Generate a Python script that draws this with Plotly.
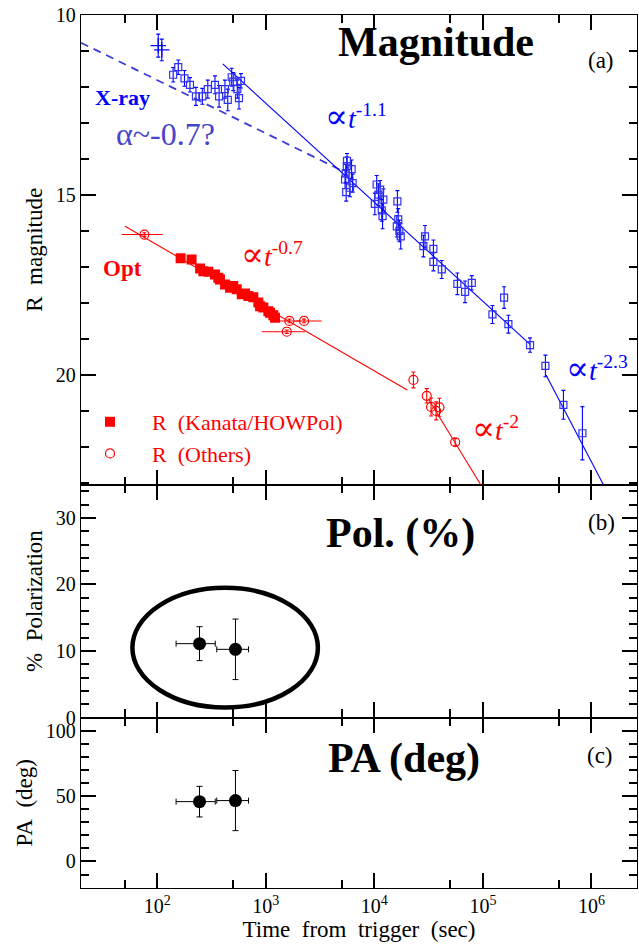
import plotly.graph_objects as go

# ---------------- data ----------------
# X-ray (converted to R magnitude), early "+" points
xray_plus_t = [102, 110]
xray_plus_mag = [10.85, 10.97]
xray_plus_err = [0.32, 0.30]

# X-ray open squares
xray_t = [140, 156, 178, 200, 227, 260, 292, 340, 371, 420, 446, 485, 501, 546, 566, 590,
          5600, 5570, 6170, 5450, 5370, 6310, 5500, 5970,
          10500, 11300, 10100, 12100, 11700, 11900, 10900, 16300,
          16600, 16100, 17500, 17000, 29300, 28300, 35000, 35000, 41800,
          58200, 68500, 79000, 122500, 156800, 171800, 272000, 376700, 552000, 826000]
xray_mag = [11.66, 11.45, 11.76, 11.94, 12.26, 12.26, 12.06, 11.94, 12.26, 12.06, 12.36, 11.73, 11.85, 12.06, 12.31, 11.83,
            14.05, 14.20, 14.28, 14.40, 14.57, 14.67, 14.92, 14.80,
            14.71, 14.85, 15.25, 15.13, 15.43, 15.59, 14.99, 15.18,
            15.68, 15.87, 16.15, 16.00, 16.15, 16.42, 16.50, 16.86, 17.07,
            17.47, 17.69, 17.44, 18.32, 17.85, 18.59, 19.17, 19.75, 20.83, 21.62]
xray_err = [0.20, 0.20, 0.22, 0.20, 0.25, 0.22, 0.25, 0.25, 0.30, 0.25, 0.30, 0.25, 0.25, 0.25, 0.30, 0.20,
            0.20, 0.25, 0.25, 0.25, 0.25, 0.25, 0.25, 0.25,
            0.25, 0.25, 0.30, 0.30, 0.30, 0.35, 0.30, 0.30,
            0.30, 0.30, 0.35, 0.30, 0.30, 0.30, 0.25, 0.25, 0.25,
            0.30, 0.30, 0.20, 0.25, 0.30, 0.25, 0.20, 0.30, 0.40, 0.74]

# Optical R: Kanata/HOWPol
kanata_t = [164, 207, 248, 266, 295, 340, 365, 378, 421, 468, 501, 539, 600, 643, 690, 767, 853, 885, 949, 1055, 1094, 1172, 1216]
kanata_mag = [16.76, 16.79, 17.04, 17.12, 17.13, 17.21, 17.30, 17.35, 17.49, 17.58, 17.53, 17.62, 17.76, 17.74, 17.81, 17.84,
              17.99, 18.09, 18.13, 18.23, 18.27, 18.34, 18.41]

# Optical R: others
others_t = [76, 1650, 2250, 1560, 22900, 30400, 33300, 37100, 39800, 55500]
others_mag = [16.10, 18.50, 18.50, 18.80, 20.14, 20.58, 20.89, 21.00, 20.90, 21.87]
others_err = [0.05, 0.05, 0.05, 0.05, 0.22, 0.20, 0.25, 0.25, 0.25, 0.10]
others_tlo = [29, 356, 388, 644, 0, 0, 0, 0, 0, 0]
others_thi = [36, 440, 1023, 731, 0, 0, 0, 0, 0, 0]

# Power-law fit lines (end points)
fit_x11_t, fit_x11_mag = [401, 272000], [11.36, 19.15]
fit_x23_t, fit_x23_mag = [382000, 1290000], [20.00, 23.05]
fit_xdash_t, fit_xdash_mag = [19.8, 5150], [10.77, 14.34]
fit_o07_t, fit_o07_mag = [50.5, 20100], [15.87, 20.42]
fit_o2_t, fit_o2_mag = [31500, 95500], [20.67, 23.05]

# Polarization
pol_t = [245, 525]
pol_tlo = [96, 172]
pol_thi = [97, 168]
pol_val = [11.1, 10.25]
pol_err = [2.55, 4.55]
pa_val = [45.8, 46.6]
pa_err = [11.7, 23.0]

# --------------- layout helpers ---------------
W, H = 639, 944
ML, MR, MT, MB = 81, 2, 15, 56
PW, PH = W - ML - MR, H - MT - MB


def px(x):
    return (x - ML) / PW


def py(y):
    return (H - MB - y) / PH


SERIF = "Liberation Serif, Times New Roman, DejaVu Serif, serif"
BLUE = "#0000ff"
BLUE_M = "#3030f0"
RED = "#ff0000"

fig = go.Figure()

# ---- panel (a) ----
fig.add_trace(go.Scatter(x=fit_xdash_t, y=fit_xdash_mag, mode="lines", xaxis="x3", yaxis="y3",
                         line=dict(color="#3c3cd0", width=1.8, dash="8px,6px"), showlegend=False))
fig.add_trace(go.Scatter(x=fit_x11_t, y=fit_x11_mag, mode="lines", xaxis="x3", yaxis="y3",
                         line=dict(color=BLUE, width=1.1), showlegend=False))
fig.add_trace(go.Scatter(x=fit_x23_t, y=fit_x23_mag, mode="lines", xaxis="x3", yaxis="y3",
                         line=dict(color=BLUE, width=1.1), showlegend=False))
fig.add_trace(go.Scatter(x=fit_o07_t, y=fit_o07_mag, mode="lines", xaxis="x3", yaxis="y3",
                         line=dict(color=RED, width=1.1), showlegend=False))
fig.add_trace(go.Scatter(x=fit_o2_t, y=fit_o2_mag, mode="lines", xaxis="x3", yaxis="y3",
                         line=dict(color=RED, width=1.1), showlegend=False))

fig.add_trace(go.Scatter(x=xray_plus_t, y=xray_plus_mag, mode="markers", xaxis="x3", yaxis="y3",
                         marker=dict(symbol="cross-thin", size=11, line=dict(color=BLUE, width=1.3)),
                         error_y=dict(type="data", array=xray_plus_err, color=BLUE, thickness=1.1, width=2),
                         showlegend=False))
fig.add_trace(go.Scatter(x=xray_t, y=xray_mag, mode="markers", xaxis="x3", yaxis="y3",
                         marker=dict(symbol="square-open", size=7, color=BLUE_M, line=dict(width=1.2)),
                         error_y=dict(type="data", array=xray_err, color=BLUE, thickness=1.1, width=2),
                         showlegend=False))

fig.add_trace(go.Scatter(x=kanata_t, y=kanata_mag, mode="markers", xaxis="x3", yaxis="y3",
                         marker=dict(symbol="square", size=10, color=RED),
                         name="\u00a0\u00a0\u00a0\u00a0R\u00a0\u00a0(Kanata/HOWPol)", showlegend=True))
fig.add_trace(go.Scatter(x=others_t, y=others_mag, mode="markers", xaxis="x3", yaxis="y3",
                         marker=dict(symbol="circle-open", size=9, color=RED, line=dict(width=1.2)),
                         error_y=dict(type="data", array=others_err, color=RED, thickness=1.1, width=2),
                         error_x=dict(type="data", symmetric=False, array=others_thi, arrayminus=others_tlo,
                                      color=RED, thickness=1.1, width=0),
                         name="\u00a0\u00a0\u00a0\u00a0R\u00a0\u00a0(Others)", showlegend=True))

# ---- panel (b) ----
fig.add_trace(go.Scatter(x=pol_t, y=pol_val, mode="markers", xaxis="x2", yaxis="y2",
                         marker=dict(symbol="circle", size=13, color="black"),
                         error_y=dict(type="data", array=pol_err, color="black", thickness=1, width=3),
                         error_x=dict(type="data", symmetric=False, array=pol_thi, arrayminus=pol_tlo,
                                      color="black", thickness=1, width=3),
                         showlegend=False))
# ---- panel (c) ----
fig.add_trace(go.Scatter(x=pol_t, y=pa_val, mode="markers", xaxis="x", yaxis="y",
                         marker=dict(symbol="circle", size=13, color="black"),
                         error_y=dict(type="data", array=pa_err, color="black", thickness=1, width=3),
                         error_x=dict(type="data", symmetric=False, array=pol_thi, arrayminus=pol_tlo,
                                      color="black", thickness=1, width=3),
                         showlegend=False))

XRANGE = [1.297, 6.42]
LW = 1.3
common_x = dict(type="log", range=XRANGE, showline=True, linecolor="black", linewidth=LW,
                mirror="allticks", ticks="inside", ticklen=15, tickwidth=1.5, tickcolor="black",
                tickvals=[1e2, 1e3, 1e4, 1e5, 1e6],
                ticktext=["10<sup>2</sup>", "10<sup>3</sup>", "10<sup>4</sup>", "10<sup>5</sup>", "10<sup>6</sup>"],
                minor=dict(tickvals=[50, 500, 5000, 50000, 500000], ticks="inside", ticklen=8,
                           tickwidth=1.5, tickcolor="black", showgrid=False),
                showgrid=False, zeroline=False,
                tickfont=dict(family=SERIF, size=20, color="black"))
common_y = dict(showline=True, linecolor="black", linewidth=LW, mirror="allticks",
                ticks="inside", ticklen=15, tickwidth=1.5, tickcolor="black",
                showgrid=False, zeroline=False,
                tickfont=dict(family=SERIF, size=20, color="black"))
TFONT = dict(family=SERIF, size=23, color="black")

D_C = [0, py(717.5)]
D_B = [py(717.5), py(484.7)]
D_A = [py(484.7), 1]

fig.update_layout(
    width=W, height=H, margin=dict(l=ML, r=MR, t=MT, b=MB),
    paper_bgcolor="white", plot_bgcolor="white",
    xaxis=dict(common_x, anchor="y", domain=[0, 1],
               title=dict(text="Time\u00a0\u00a0from\u00a0\u00a0trigger\u00a0\u00a0(sec)",
                          font=TFONT, standoff=2)),
    xaxis2=dict(common_x, anchor="y2", domain=[0, 1], matches="x", showticklabels=False),
    xaxis3=dict(common_x, anchor="y3", domain=[0, 1], matches="x", showticklabels=False),
    yaxis=dict(common_y, domain=D_C, range=[-20.3, 110.2], tickvals=[0, 50, 100],
               minor=dict(dtick=10, tick0=0, ticks="inside", ticklen=8, tickwidth=1.5, tickcolor="black"),
               title=dict(text="PA\u00a0\u00a0(deg)", font=TFONT, standoff=6)),
    yaxis2=dict(common_y, domain=D_B, range=[0, 35], tickvals=[0, 10, 20, 30],
                minor=dict(dtick=2, tick0=0, ticks="inside", ticklen=8, tickwidth=1.5, tickcolor="black"),
                title=dict(text="%\u00a0\u00a0Polarization", font=TFONT, standoff=6)),
    yaxis3=dict(common_y, domain=D_A, range=[23.05, 10], tickvals=[10, 15, 20],
                minor=dict(dtick=1, tick0=10, ticks="inside", ticklen=8, tickwidth=1.5, tickcolor="black"),
                title=dict(text="R\u00a0\u00a0magnitude", font=TFONT, standoff=6)),
    legend=dict(x=px(90), y=py(401), xanchor="left", yanchor="top", bgcolor="rgba(0,0,0,0)",
                font=dict(family=SERIF, size=22, color=RED), itemsizing="trace", tracegroupgap=0),
    showlegend=True,
)

def ann(text, x, y, size, color="black", bold=False):
    if bold:
        text = "<b>" + text + "</b>"
    fig.add_annotation(text=text, x=px(x), y=py(y), xref="paper", yref="paper",
                       xanchor="center", yanchor="middle", showarrow=False,
                       font=dict(family=SERIF, size=size, color=color))

PROP = "<span style='font-size:34px'>\u221d</span>"
ann("Magnitude", 436, 42, 42, bold=True)
ann("(a)", 601, 60, 23)
ann("Pol. (%)", 400, 533, 42, bold=True)
ann("(b)", 601, 522, 23)
ann("PA (deg)", 404, 758, 42, bold=True)
ann("(c)", 600, 755, 23)
ann("X-ray", 122, 97, 22, color=BLUE, bold=True)
ann("\u03b1~-0.7?", 165, 134, 32, color="#4646c8")
ann(PROP + "<i>t</i><sup>-1.1</sup>", 356, 116, 28, color=BLUE)
ann(PROP + "<i>t</i><sup>-2.3</sup>", 597, 368, 28, color=BLUE)
ann("Opt", 122, 268, 23, color=RED, bold=True)
ann(PROP + "<i>t</i><sup>-0.7</sup>", 272, 254, 28, color=RED)
ann(PROP + "<i>t</i><sup>-2</sup>", 495, 428, 28, color=RED)

# highlight ellipse in panel (b)
fig.add_shape(type="circle", xref="x2 domain", yref="y2", x0=px(132.4), x1=px(317.9), y0=1.5, y1=19.5,
              line=dict(color="black", width=4.5), layer="above")

fig.write_html("out.html")
